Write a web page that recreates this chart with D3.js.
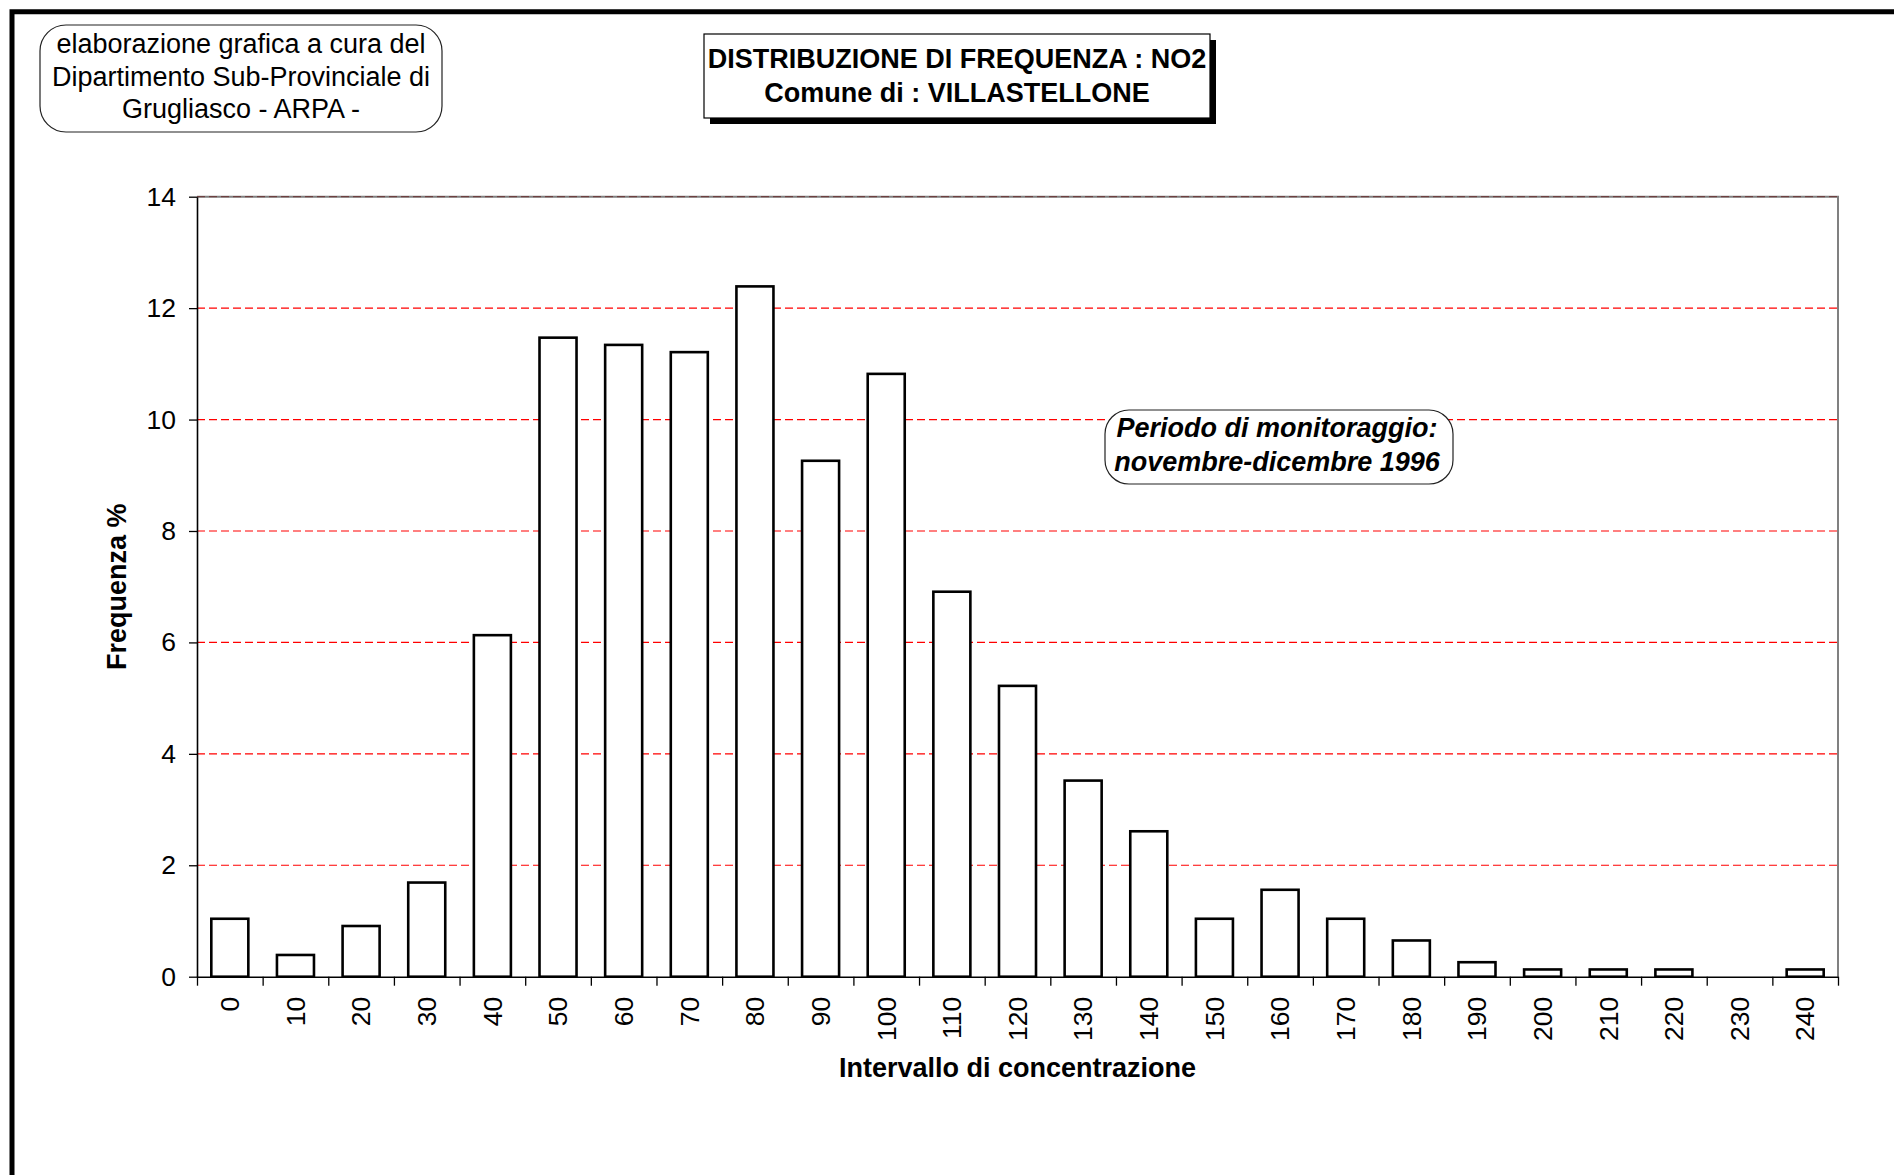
<!DOCTYPE html>
<html>
<head>
<meta charset="utf-8">
<script src="https://cdn.jsdelivr.net/npm/d3@7"></script>
<style>
  html, body { margin: 0; padding: 0; background: #fff; }
  svg { display: block; font-family: "Liberation Sans", Arial, sans-serif; }
</style>
</head>
<body>
<svg id="chart" width="1894" height="1175"></svg>
<script>
// Concentration classes (NO2, µg/m3) and the percentage of hourly values in each class
const categories = ["0","10","20","30","40","50","60","70","80","90","100","110","120",
                    "130","140","150","160","170","180","190","200","210","220","230","240"];
const frequencies = [1.04, 0.39, 0.91, 1.69, 6.13, 11.47, 11.34, 11.21, 12.39, 9.26, 10.82, 6.91, 5.22,
                     3.52, 2.61, 1.04, 1.56, 1.04, 0.65, 0.26, 0.13, 0.13, 0.13, 0, 0.13];
const yTicks = [0, 2, 4, 6, 8, 10, 12, 14];

const titleLines = ["DISTRIBUZIONE DI FREQUENZA : NO2", "Comune di : VILLASTELLONE"];
const creditLines = ["elaborazione grafica a cura del", "Dipartimento Sub-Provinciale di", "Grugliasco - ARPA -"];
const periodLines = ["Periodo di monitoraggio:", "novembre-dicembre 1996"];
const yTitle = "Frequenza %";
const xTitle = "Intervallo di concentrazione";

const svg = d3.select("#chart");

// Page frame (thick rule along the top and left edge)
svg.append("rect")
  .attr("x", 12).attr("y", 11.75)
  .attr("width", 2000).attr("height", 2000)
  .attr("fill", "none").attr("stroke", "#000").attr("stroke-width", 5);

const plot = { left: 197, right: 1838, top: 196.7, bottom: 976.7 };

const x = d3.scaleBand()
  .domain(categories)
  .range([plot.left, plot.right])
  .paddingInner(0.436)
  .paddingOuter(0.218);

const xEdges = d3.scaleLinear().domain([0, categories.length]).range([plot.left, plot.right]);

const y = d3.scaleLinear().domain([0, 14]).range([plot.bottom, plot.top]);

// Horizontal gridlines
svg.append("g")
  .selectAll("line")
  .data(yTicks.filter(t => t > 0 && t < 14))
  .join("line")
  .attr("x1", plot.left).attr("x2", plot.right)
  .attr("y1", d => y(d)).attr("y2", d => y(d))
  .attr("stroke", "#ff0000").attr("stroke-width", 1.2)
  .attr("stroke-dasharray", "8,4");

// Top and right frame of the plot area
svg.append("path")
  .attr("d", `M${plot.left},${plot.top}H${plot.right}V${plot.bottom}`)
  .attr("fill", "none").attr("stroke", "#808080").attr("stroke-width", 2);
svg.append("line")
  .attr("x1", plot.left).attr("x2", plot.right)
  .attr("y1", y(14)).attr("y2", y(14))
  .attr("stroke", "#5a0000").attr("stroke-opacity", 0.5).attr("stroke-width", 1.2)
  .attr("stroke-dasharray", "8,4");

// Bars
svg.append("g")
  .selectAll("rect")
  .data(frequencies)
  .join("rect")
  .attr("x", (d, i) => x(categories[i]))
  .attr("width", x.bandwidth())
  .attr("y", d => y(d))
  .attr("height", d => y(0) - y(d))
  .attr("fill", "#fff").attr("stroke", "#000").attr("stroke-width", 2.6);

// Y axis
const yAxis = svg.append("g")
  .attr("transform", `translate(${plot.left},0)`)
  .call(d3.axisLeft(y).tickValues(yTicks).tickSize(8).tickPadding(13).tickSizeOuter(0));
yAxis.select(".domain").attr("stroke", "#000").attr("stroke-width", 1.6);
yAxis.selectAll(".tick line").attr("stroke", "#000").attr("stroke-width", 1.3);
yAxis.selectAll("text").attr("font-size", 26.5).attr("fill", "#000")
  .attr("font-family", "'Liberation Sans', Arial, sans-serif");

// X axis: tick marks on class boundaries
const xTickAxis = svg.append("g")
  .attr("transform", `translate(0,${plot.bottom})`)
  .call(d3.axisBottom(xEdges).tickValues(d3.range(0, categories.length + 1))
        .tickSize(9).tickFormat("").tickSizeOuter(0));
xTickAxis.select(".domain").attr("stroke", "#000").attr("stroke-width", 1.6);
xTickAxis.selectAll(".tick line").attr("stroke", "#000").attr("stroke-width", 1.3);

// X axis: rotated class labels centred on each bar
const xLabelAxis = svg.append("g")
  .attr("transform", `translate(0,${plot.bottom})`)
  .call(d3.axisBottom(x).tickSize(0));
xLabelAxis.select(".domain").remove();
xLabelAxis.selectAll("text")
  .attr("font-size", 26.5).attr("fill", "#000")
  .attr("font-family", "'Liberation Sans', Arial, sans-serif")
  .attr("transform", "rotate(-90)")
  .attr("text-anchor", "end")
  .attr("x", -20).attr("y", 0).attr("dy", "0.35em");

// Axis titles
svg.append("text")
  .attr("transform", `translate(126,${(plot.top + plot.bottom) / 2}) rotate(-90)`)
  .attr("text-anchor", "middle")
  .attr("font-size", 27).attr("font-weight", "bold")
  .text(yTitle);

svg.append("text")
  .attr("x", (plot.left + plot.right) / 2).attr("y", 1077)
  .attr("text-anchor", "middle")
  .attr("font-size", 27).attr("font-weight", "bold")
  .text(xTitle);

// Title box with drop shadow
const tb = { x: 704, y: 34, w: 506, h: 84 };
svg.append("rect").attr("x", tb.x + 6).attr("y", tb.y + 6).attr("width", tb.w).attr("height", tb.h).attr("fill", "#000");
svg.append("rect").attr("x", tb.x).attr("y", tb.y).attr("width", tb.w).attr("height", tb.h)
  .attr("fill", "#fff").attr("stroke", "#000").attr("stroke-width", 1.2);
svg.append("g").selectAll("text").data(titleLines).join("text")
  .attr("x", tb.x + tb.w / 2).attr("y", (d, i) => 68 + i * 34)
  .attr("text-anchor", "middle")
  .attr("font-size", 27).attr("font-weight", "bold")
  .text(d => d);

// Credit box (top left)
const cb = { x: 40, y: 25, w: 402, h: 107 };
svg.append("rect").attr("x", cb.x).attr("y", cb.y).attr("width", cb.w).attr("height", cb.h)
  .attr("rx", 26).attr("ry", 26)
  .attr("fill", "#fff").attr("stroke", "#222").attr("stroke-width", 1.2);
svg.append("g").selectAll("text").data(creditLines).join("text")
  .attr("x", cb.x + cb.w / 2).attr("y", (d, i) => 53 + i * 32.5)
  .attr("text-anchor", "middle")
  .attr("font-size", 27)
  .text(d => d);

// Monitoring period note
const pb = { x: 1105, y: 410, w: 348, h: 74 };
svg.append("rect").attr("x", pb.x).attr("y", pb.y).attr("width", pb.w).attr("height", pb.h)
  .attr("rx", 24).attr("ry", 24)
  .attr("fill", "#fff").attr("stroke", "#222").attr("stroke-width", 1.2);
svg.append("g").selectAll("text").data(periodLines).join("text")
  .attr("x", pb.x + pb.w / 2 - 2).attr("y", (d, i) => 437 + i * 34)
  .attr("text-anchor", "middle")
  .attr("font-size", 27).attr("font-weight", "bold").attr("font-style", "italic")
  .text(d => d);
</script>
</body>
</html>
